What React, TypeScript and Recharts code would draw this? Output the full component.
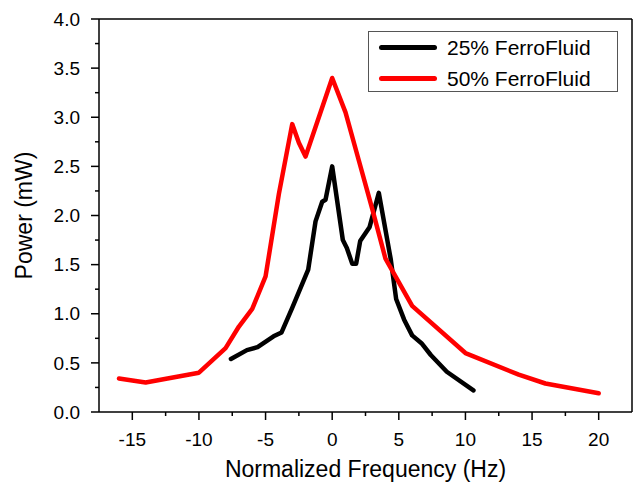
import { Line, LineChart, ReferenceLine, XAxis, YAxis } from "recharts";

// 25% ferrofluid (black)
const ferro25Hz = [-7.6, -6.4, -5.6, -4.4, -3.8, -3.0, -1.8, -1.25, -0.75, -0.5, 0, 0.8, 1.1, 1.5, 1.8, 2.1, 2.8, 3.5, 4.4, 4.8, 5.4, 6.0, 6.7, 7.4, 8.6, 10.6];
const ferro25mW = [0.54, 0.63, 0.66, 0.77, 0.81, 1.06, 1.45, 1.94, 2.14, 2.16, 2.5, 1.75, 1.67, 1.51, 1.51, 1.74, 1.88, 2.23, 1.55, 1.15, 0.94, 0.78, 0.7, 0.58, 0.41, 0.22];

// 50% ferrofluid (red)
const ferro50Hz = [-16, -14, -10, -8, -7, -6, -5, -4, -3, -2.5, -2, 0, 1, 2, 3, 4, 6, 10, 14, 16, 20];
const ferro50mW = [0.34, 0.3, 0.4, 0.65, 0.87, 1.05, 1.38, 2.22, 2.93, 2.74, 2.6, 3.4, 3.05, 2.56, 2.07, 1.56, 1.08, 0.6, 0.38, 0.29, 0.19];

const xMajor = [-15, -10, -5, 0, 5, 10, 15, 20];
const xMinor = [-12.5, -7.5, -2.5, 2.5, 7.5, 12.5, 17.5];
const yMajor = [0, 0.5, 1, 1.5, 2, 2.5, 3, 3.5, 4];
const yMinor = [0.25, 0.75, 1.25, 1.75, 2.25, 2.75, 3.25, 3.75];

const series = [
  { name: "25% FerroFluid", color: "#000000", xs: ferro25Hz, ys: ferro25mW },
  { name: "50% FerroFluid", color: "#ff0000", xs: ferro50Hz, ys: ferro50mW },
];

const FONT = "Arial, 'Liberation Sans', sans-serif";
const TICK = 8;
const MINOR = 4;
const X_GAP = 13;
const Y_GAP = 11;

function XTick(props: any) {
  const { x, y, payload } = props;
  const major = xMajor.includes(payload.value);
  const axisY = y - X_GAP - TICK;
  return (
    <g>
      <line x1={x} x2={x} y1={axisY} y2={axisY + (major ? TICK : MINOR)} stroke="#000" strokeWidth={1.5} />
      {major && (
        <text x={x} y={y} dy="0.71em" textAnchor="middle" fontSize={19} fontFamily={FONT} fill="#000">
          {payload.value}
        </text>
      )}
    </g>
  );
}

function YTick(props: any) {
  const { x, y, payload } = props;
  const major = yMajor.includes(payload.value);
  const axisX = x + Y_GAP + TICK;
  return (
    <g>
      <line x1={axisX - (major ? TICK : MINOR)} x2={axisX} y1={y} y2={y} stroke="#000" strokeWidth={1.5} />
      {major && (
        <text x={x} y={y} dy="0.355em" textAnchor="end" fontSize={19} fontFamily={FONT} fill="#000">
          {payload.value.toFixed(1)}
        </text>
      )}
    </g>
  );
}

export default function App() {
  const lines = series.map((s) => ({
    ...s,
    data: s.xs.map((x, i) => ({ x, y: s.ys[i] })),
  }));
  const xTicks = [...xMajor, ...xMinor].sort((a, b) => a - b);
  const yTicks = [...yMajor, ...yMinor].sort((a, b) => a - b);

  return (
    <div style={{ position: "absolute", left: 0, top: 0, width: 636, height: 486, background: "#fff", fontFamily: FONT }}>
      <LineChart width={636} height={486} margin={{ top: 19, right: 4, bottom: 0, left: 0 }}>
        <XAxis
          dataKey="x"
          type="number"
          domain={[-17.5, 22.5]}
          ticks={xTicks}
          interval={0}
          height={74}
          tickSize={TICK}
          tickMargin={X_GAP}
          tickLine={false}
          tick={<XTick />}
          axisLine={{ stroke: "#000", strokeWidth: 1.5 }}
          allowDataOverflow
          label={{
            value: "Normalized Frequency (Hz)",
            position: "insideBottom",
            offset: 9,
            style: { fontSize: 23, fill: "#000", fontFamily: FONT },
          }}
        />
        <YAxis
          dataKey="y"
          type="number"
          domain={[0, 4]}
          ticks={yTicks}
          interval={0}
          width={99}
          tickSize={TICK}
          tickMargin={Y_GAP}
          tickLine={false}
          tick={<YTick />}
          axisLine={{ stroke: "#000", strokeWidth: 1.5 }}
          allowDataOverflow
          label={{
            value: "Power (mW)",
            angle: -90,
            position: "insideLeft",
            offset: 24,
            style: { fontSize: 23, fill: "#000", fontFamily: FONT, textAnchor: "middle" },
          }}
        />
        <ReferenceLine y={4} stroke="#000" strokeWidth={1.5} />
        <ReferenceLine x={22.5} stroke="#000" strokeWidth={1.5} />
        {lines.map((s) => (
          <Line
            key={s.name}
            data={s.data}
            dataKey="y"
            name={s.name}
            type="linear"
            stroke={s.color}
            strokeWidth={4.5}
            strokeLinejoin="round"
            strokeLinecap="round"
            dot={false}
            activeDot={false}
            isAnimationActive={false}
          />
        ))}
      </LineChart>
      <div
        style={{
          position: "absolute",
          left: 368,
          top: 31,
          width: 250,
          height: 61,
          border: "1px solid #555",
          boxSizing: "border-box",
          background: "#fff",
        }}
      >
        {series.map((s, i) => (
          <div key={s.name} style={{ position: "absolute", left: 0, top: 1 + i * 30.6, height: 29, width: 248 }}>
            <div
              style={{
                position: "absolute",
                left: 10,
                top: 12,
                width: 58,
                height: 5,
                borderRadius: 3,
                background: s.color,
              }}
            />
            <div
              style={{
                position: "absolute",
                left: 78,
                top: 0,
                lineHeight: "29px",
                fontSize: 21,
                color: "#000",
                whiteSpace: "nowrap",
              }}
            >
              {s.name}
            </div>
          </div>
        ))}
      </div>
    </div>
  );
}
